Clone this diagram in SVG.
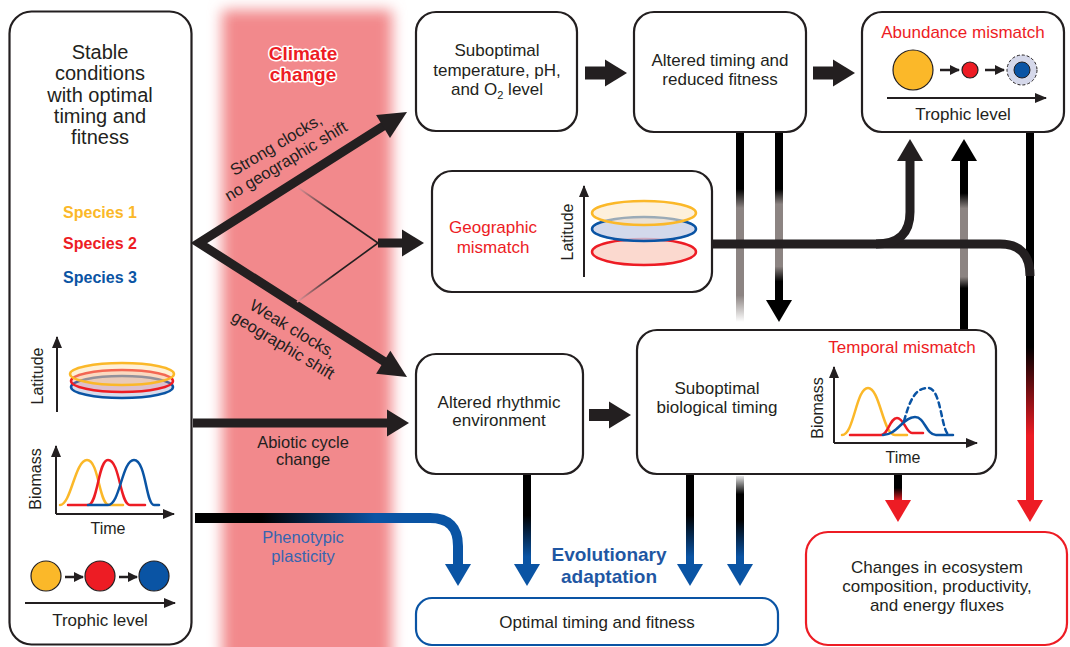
<svg xmlns="http://www.w3.org/2000/svg" xmlns:xlink="http://www.w3.org/1999/xlink" width="1070" height="647" viewBox="0 0 1070 647">
<style>
.box{fill:#fff;stroke:#231f20;stroke-width:2.2}
.t{font-family:'Liberation Sans',Arial,sans-serif;font-size:17px;fill:#231f20;text-anchor:middle}
.s16{font-size:16px}
.red{fill:#ed1c24}
.blu{fill:#0a54a4}
.yel{fill:#fbb829}
.b{font-weight:bold}
.ax{fill:none;stroke:#231f20;stroke-width:2;marker-end:url(#ax)}
.sm{fill:none;stroke:#231f20;stroke-width:2.5;marker-end:url(#sm)}
.thick{fill:none;stroke:#231f20;stroke-width:9}
.cv{fill:none;stroke-width:2.5;stroke-linecap:round}
</style>
<defs>
<filter id="blur" x="-20%" y="-5%" width="140%" height="110%"><feGaussianBlur stdDeviation="7"/></filter>
<marker id="ax" viewBox="0 0 12 10" refX="11" refY="5" markerWidth="12" markerHeight="10" markerUnits="userSpaceOnUse" orient="auto"><path d="M0,0 L12,5 L0,10 Z" fill="#231f20"/></marker>
<marker id="sm" viewBox="0 0 10 10" refX="9" refY="5" markerWidth="10" markerHeight="10" markerUnits="userSpaceOnUse" orient="auto"><path d="M0,0 L10,5 L0,10 Z" fill="#231f20"/></marker>
<path id="hR" d="M0,0 L-22,-13.5 L-22,13.5 Z"/>
<path id="hBig" d="M0,0 L-28,-13.5 L-28,13.5 Z"/>
<path id="hD" d="M0,0 L-13,-22 L13,-22 Z"/>
<path id="hU" d="M0,0 L-13,22 L13,22 Z"/>
<linearGradient id="gThin1" gradientUnits="userSpaceOnUse" x1="297" y1="0" x2="378" y2="0"><stop offset="0" stop-color="#e7949a"/><stop offset="0.45" stop-color="#231f20"/></linearGradient>
<linearGradient id="g740a" gradientUnits="userSpaceOnUse" x1="0" y1="132" x2="0" y2="322"><stop offset="0" stop-color="#000"/><stop offset="0.3" stop-color="#000"/><stop offset="0.4" stop-color="#8c8482"/><stop offset="0.86" stop-color="#8c8482"/><stop offset="1" stop-color="#fff"/></linearGradient>
<linearGradient id="g779" gradientUnits="userSpaceOnUse" x1="0" y1="132" x2="0" y2="300"><stop offset="0" stop-color="#000"/><stop offset="0.34" stop-color="#000"/><stop offset="0.43" stop-color="#8c8482"/><stop offset="0.8" stop-color="#8c8482"/><stop offset="0.89" stop-color="#000"/><stop offset="1" stop-color="#000"/></linearGradient>
<linearGradient id="g964" gradientUnits="userSpaceOnUse" x1="0" y1="140" x2="0" y2="330"><stop offset="0" stop-color="#000"/><stop offset="0.28" stop-color="#000"/><stop offset="0.36" stop-color="#8c8482"/><stop offset="0.72" stop-color="#8c8482"/><stop offset="0.78" stop-color="#000"/><stop offset="1" stop-color="#000"/></linearGradient>
<linearGradient id="g1030" gradientUnits="userSpaceOnUse" x1="0" y1="133" x2="0" y2="502"><stop offset="0" stop-color="#000"/><stop offset="0.58" stop-color="#000"/><stop offset="0.82" stop-color="#ed1c24"/><stop offset="1" stop-color="#ed1c24"/></linearGradient>
<linearGradient id="g898" gradientUnits="userSpaceOnUse" x1="0" y1="474" x2="0" y2="502"><stop offset="0" stop-color="#000"/><stop offset="0.5" stop-color="#000"/><stop offset="0.95" stop-color="#ed1c24"/></linearGradient>
<linearGradient id="gBlue" gradientUnits="userSpaceOnUse" x1="0" y1="474" x2="0" y2="566"><stop offset="0" stop-color="#000"/><stop offset="0.45" stop-color="#000"/><stop offset="0.9" stop-color="#0a54a4"/></linearGradient>
<linearGradient id="g740b" gradientUnits="userSpaceOnUse" x1="0" y1="474" x2="0" y2="566"><stop offset="0" stop-color="#fff"/><stop offset="0.22" stop-color="#000"/><stop offset="0.5" stop-color="#000"/><stop offset="0.9" stop-color="#0a54a4"/></linearGradient>
<linearGradient id="gPheno" gradientUnits="userSpaceOnUse" x1="195" y1="0" x2="460" y2="0"><stop offset="0" stop-color="#000"/><stop offset="0.25" stop-color="#000"/><stop offset="0.68" stop-color="#0a54a4"/><stop offset="1" stop-color="#0a54a4"/></linearGradient>
</defs>

<rect width="1070" height="647" fill="#fff"/>

<g id="climate-band">
<rect x="222" y="10" width="170" height="660" fill="#f2898c" filter="url(#blur)"/>
<text class="t b red" x="303" y="60" style="font-size:19px;stroke:#fff;stroke-width:3;paint-order:stroke;stroke-linejoin:round">Climate</text>
<text class="t b red" x="303" y="81" style="font-size:19px;stroke:#fff;stroke-width:3;paint-order:stroke;stroke-linejoin:round">change</text>
</g>

<g id="node-stable">
<rect class="box" x="9.5" y="11.5" width="182" height="633" rx="22"/>
<text class="t" style="font-size:20px" x="100" y="59">Stable</text>
<text class="t" style="font-size:20px" x="100" y="80">conditions</text>
<text class="t" style="font-size:20px" x="100" y="102">with optimal</text>
<text class="t" style="font-size:20px" x="100" y="123">timing and</text>
<text class="t" style="font-size:20px" x="100" y="144">fitness</text>
<text class="t b yel s16" x="100" y="218">Species 1</text>
<text class="t b red s16" x="100" y="249">Species 2</text>
<text class="t b blu s16" x="100" y="283">Species 3</text>
<path class="ax" d="M57,412 V337"/>
<text class="t s16" transform="translate(43,376) rotate(-90)">Latitude</text>
<ellipse cx="122" cy="387" rx="51" ry="11" fill="#8a9bc8" fill-opacity="0.35" stroke="#0a54a4" stroke-width="2.5"/>
<ellipse cx="122" cy="381" rx="51" ry="11" fill="#f08080" fill-opacity="0.3" stroke="#ed1c24" stroke-width="2.5"/>
<ellipse cx="122" cy="374" rx="52" ry="11" fill="#fcd99a" fill-opacity="0.4" stroke="#fbb829" stroke-width="2.5"/>
<path class="ax" d="M56,514 V446"/>
<path class="ax" d="M56,514 H174"/>
<path class="cv" stroke="#fbb829" d="M60,505 C71,505 75,460 87,460 C99,460 99,505 109,505 H123"/>
<path class="cv" stroke="#ed1c24" d="M68,505 H88 C98,505 98,460 108,460 C120,460 120,505 130,505 H145"/>
<path class="cv" stroke="#0a54a4" d="M88,505 H108 C120,505 122,460 134,460 C146,460 146,505 154,505 H159"/>
<text class="t s16" transform="translate(41,479) rotate(-90)">Biomass</text>
<text class="t s16" x="108" y="534">Time</text>
<circle cx="46" cy="576" r="15" fill="#fbb829" stroke="#231f20" stroke-width="1.2"/>
<circle cx="100" cy="576" r="15" fill="#ed1c24" stroke="#231f20" stroke-width="1.2"/>
<circle cx="154" cy="576" r="15" fill="#0a54a4" stroke="#231f20" stroke-width="1.2"/>
<path class="sm" d="M65,577 H83"/>
<path class="sm" d="M119,577 H137"/>
<path class="ax" d="M25,603 H175"/>
<text class="t" x="100" y="626">Trophic level</text>
</g>

<g id="connectors">
<path d="M385,125 L199,243 L385,362" fill="none" stroke="#231f20" stroke-width="9" stroke-linejoin="miter" stroke-miterlimit="10"/>
<use xlink:href="#hBig" fill="#231f20" transform="translate(407,112) rotate(-31.1)"/>
<use xlink:href="#hBig" fill="#231f20" transform="translate(407,377) rotate(31.9)"/>
<path d="M297,187 L378,243" fill="none" stroke="url(#gThin1)" stroke-width="1.6"/>
<path d="M297,302 L378,243" fill="none" stroke="url(#gThin1)" stroke-width="1.6"/>
<path class="thick" d="M378,243 H403"/>
<use xlink:href="#hR" fill="#231f20" transform="translate(424,243)"/>
<path class="thick" d="M193,423 H390"/>
<use xlink:href="#hR" fill="#231f20" transform="translate(409,423)"/>
<path d="M195,518 H430 Q458,518 458,546 V566" fill="none" stroke="url(#gPheno)" stroke-width="10"/>
<use xlink:href="#hD" fill="#0a54a4" transform="translate(458,586)"/>
<path d="M585,73 H609" fill="none" stroke="#231f20" stroke-width="13"/>
<use xlink:href="#hR" fill="#231f20" transform="translate(627,73)"/>
<path d="M813,73 H837" fill="none" stroke="#231f20" stroke-width="13"/>
<use xlink:href="#hR" fill="#231f20" transform="translate(855,73)"/>
<path d="M589,415 H613" fill="none" stroke="#231f20" stroke-width="12"/>
<use xlink:href="#hR" fill="#231f20" transform="translate(631,415)"/>
<path d="M740,132 V322" fill="none" stroke="url(#g740a)" stroke-width="8"/>
<path d="M779,132 V302" fill="none" stroke="url(#g779)" stroke-width="8"/>
<use xlink:href="#hD" fill="#000" transform="translate(779,322)"/>
<path d="M964,330 V158" fill="none" stroke="url(#g964)" stroke-width="8"/>
<use xlink:href="#hU" fill="#000" transform="translate(964,139)"/>
<path d="M1030,133 V502" fill="none" stroke="url(#g1030)" stroke-width="8"/>
<use xlink:href="#hD" fill="#ed1c24" transform="translate(1030,522)"/>
<path d="M713,244 H1000 Q1030,244 1030,276" fill="none" stroke="#231f20" stroke-width="9"/>
<path d="M876,244 Q910,244 910,212 V158" fill="none" stroke="#231f20" stroke-width="9"/>
<use xlink:href="#hU" fill="#231f20" transform="translate(910,139)"/>
<path d="M527,475 V566" fill="none" stroke="url(#gBlue)" stroke-width="8"/>
<use xlink:href="#hD" fill="#0a54a4" transform="translate(527,586)"/>
<path d="M690,474 V566" fill="none" stroke="url(#gBlue)" stroke-width="8"/>
<use xlink:href="#hD" fill="#0a54a4" transform="translate(690,586)"/>
<path d="M740,476 V566" fill="none" stroke="url(#g740b)" stroke-width="8"/>
<use xlink:href="#hD" fill="#0a54a4" transform="translate(740,586)"/>
<path d="M898,474 V502" fill="none" stroke="url(#g898)" stroke-width="8"/>
<use xlink:href="#hD" fill="#ed1c24" transform="translate(898,522)"/>
<text class="t" x="0" y="0" transform="translate(281,153) rotate(-31)" style="font-size:16.5px"><tspan x="0" y="-4">Strong clocks,</tspan><tspan x="0" y="15">no geographic shift</tspan></text>
<text class="t" x="0" y="0" transform="translate(288,337) rotate(31)" style="font-size:16.5px"><tspan x="0" y="-4">Weak clocks,</tspan><tspan x="0" y="15">geographic shift</tspan></text>
<text class="t" x="303" y="448" style="font-size:16.5px">Abiotic cycle</text>
<text class="t" x="303" y="465" style="font-size:16.5px">change</text>
<text class="t" x="303" y="543" style="font-size:16.5px;fill:#3765b0">Phenotypic</text>
<text class="t" x="303" y="562" style="font-size:16.5px;fill:#3765b0">plasticity</text>
<text class="t b" x="609" y="561" style="font-size:19px;fill:#1f57a3">Evolutionary</text>
<text class="t b" x="609" y="583" style="font-size:19px;fill:#1f57a3">adaptation</text>
</g>

<g id="node-subtemp">
<rect class="box" x="416" y="12" width="161" height="119" rx="20"/>
<text class="t" x="497" y="56">Suboptimal</text>
<text class="t" x="497" y="76">temperature, pH,</text>
<text class="t" x="497" y="95">and O<tspan style="font-size:11px" dy="4">2</tspan><tspan dy="-4"> level</tspan></text>
</g>

<g id="node-altered">
<rect class="box" x="634" y="12" width="172" height="120" rx="20"/>
<text class="t" x="720" y="66">Altered timing and</text>
<text class="t" x="720" y="85">reduced fitness</text>
</g>

<g id="node-abundance">
<rect class="box" x="862" y="12" width="202" height="120" rx="20"/>
<text class="t red" x="963" y="38">Abundance mismatch</text>
<circle cx="913" cy="70" r="20" fill="#fbb829" stroke="#231f20" stroke-width="1.2"/>
<circle cx="970" cy="70" r="8" fill="#ed1c24" stroke="#231f20" stroke-width="1.2"/>
<circle cx="1022" cy="70" r="15" fill="#d5d8ea" stroke="#231f20" stroke-width="1" stroke-dasharray="3,2"/>
<circle cx="1022" cy="70" r="8" fill="#0a54a4" stroke="#231f20" stroke-width="1"/>
<path class="sm" d="M940,70 H959"/>
<path class="sm" d="M985,70 H1004"/>
<path class="ax" d="M887,98 H1046"/>
<text class="t" x="963" y="120">Trophic level</text>
</g>

<g id="node-geographic">
<rect class="box" x="432" y="171" width="280" height="121" rx="20"/>
<text class="t red" x="493" y="233">Geographic</text>
<text class="t red" x="493" y="253">mismatch</text>
<path class="ax" d="M584,277 V186"/>
<text class="t s16" transform="translate(573,232) rotate(-90)">Latitude</text>
<ellipse cx="644" cy="252" rx="52" ry="13" fill="#fbd9cf" stroke="#ed1c24" stroke-width="2.5"/>
<ellipse cx="644" cy="229" rx="52" ry="12" fill="#c8cfe6" fill-opacity="0.8" stroke="#0a54a4" stroke-width="2.5"/>
<ellipse cx="644" cy="213" rx="52" ry="12" fill="#fce6c4" fill-opacity="0.6" stroke="#fbb829" stroke-width="2.5"/>
</g>

<g id="node-rhythmic">
<rect class="box" x="416" y="354" width="167" height="120" rx="20"/>
<text class="t" x="499" y="408">Altered rhythmic</text>
<text class="t" x="499" y="426">environment</text>
</g>

<g id="node-temporal">
<rect class="box" x="637" y="330" width="359" height="144" rx="20"/>
<text class="t" x="717" y="394">Suboptimal</text>
<text class="t" x="717" y="413">biological timing</text>
<text class="t red" x="902" y="353">Temporal mismatch</text>
<path class="ax" d="M834,443 V367"/>
<path class="ax" d="M834,443 H977"/>
<text class="t s16" transform="translate(823,408) rotate(-90)">Biomass</text>
<text class="t s16" x="903" y="463">Time</text>
<path class="cv" stroke="#fbb829" d="M842,435 C854,435 856,388 868,388 C880,388 883,435 895,435 H907"/>
<path class="cv" stroke="#ed1c24" d="M850,435 H881 C888,435 890,418 897,418 C904,418 906,433 912,433 H923"/>
<path class="cv" stroke="#0a54a4" d="M883,435 C897,435 903,417 915,417 C925,417 926,435 936,435 H953"/>
<path class="cv" stroke="#0a54a4" stroke-dasharray="5,4" stroke-linecap="butt" d="M904,421 C910,400 915,388 928,388 C942,388 941,435 950,435"/>
</g>

<g id="node-optimal">
<rect x="416" y="598" width="362" height="47" rx="16" fill="#fff" stroke="#0a54a4" stroke-width="2.2"/>
<text class="t" x="597" y="628">Optimal timing and fitness</text>
</g>

<g id="node-changes">
<rect x="806" y="532" width="261" height="113" rx="22" fill="#fff" stroke="#ed1c24" stroke-width="2.2"/>
<text class="t" x="937" y="573">Changes in ecosystem</text>
<text class="t" x="937" y="592">composition, productivity,</text>
<text class="t" x="937" y="611">and energy fluxes</text>
</g>
</svg>
